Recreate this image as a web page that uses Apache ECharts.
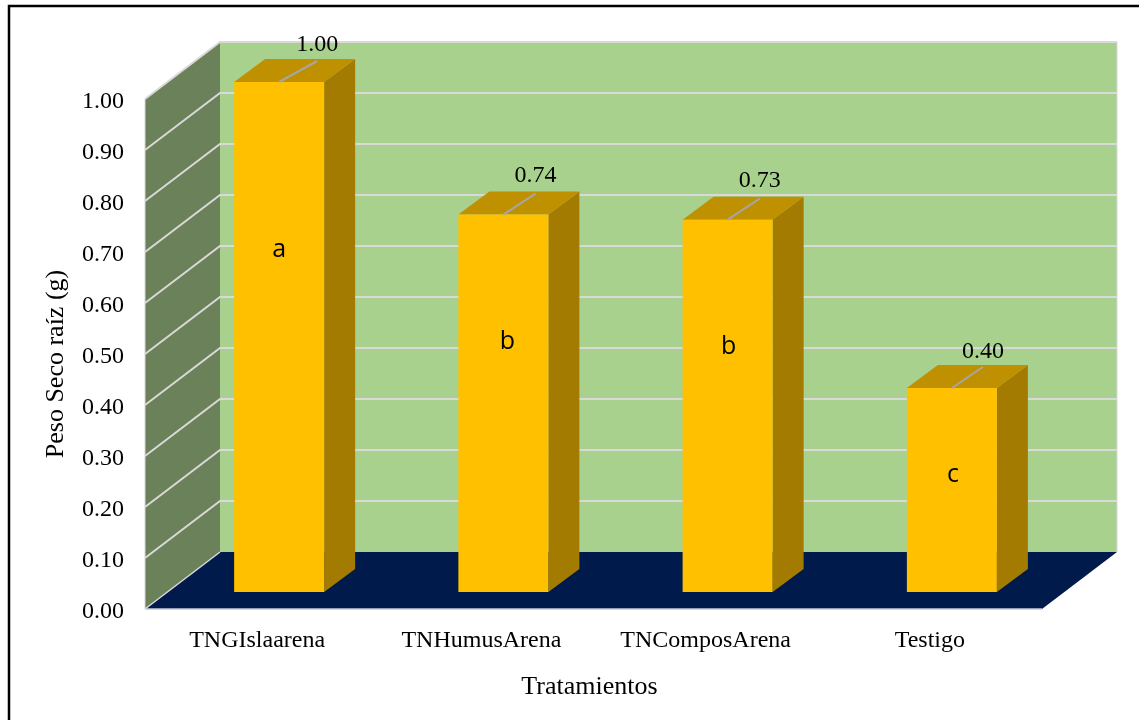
<!DOCTYPE html>
<html>
<head>
<meta charset="utf-8">
<style>html,body{margin:0;padding:0;background:#fff}#c{width:1139px;height:720px}</style>
<script src="https://cdn.jsdelivr.net/npm/echarts@6/dist/echarts.min.js"></script>
</head>
<body>
<div id="c"></div>
<script>
const categories = ['TNGIslaarena', 'TNHumusArena', 'TNComposArena', 'Testigo'];
const values = [1.00, 0.74, 0.73, 0.40];
const letters = ['a', 'b', 'b', 'c'];
const letterLevels = [0.67, 0.49, 0.48, 0.23];
const yTicks = [0, 0.1, 0.2, 0.3, 0.4, 0.5, 0.6, 0.7, 0.8, 0.9, 1.0];
const labelShiftX = [38, 32, 32, 31];
const labelShiftY = [37, 39, 39, 36];
const letterShiftX = [0, 4, 1, 1];

const SERIF = '"Liberation Serif","Times New Roman",serif';
const WALL = [75, -57], BAR_START = [22, -17], BAR_DEPTH = [31, -23], BAR_W = 90;
const C = {back:'#A9D18E', side:'#6B8159', floor:'#001A4B', grid:'#D9D9D9',
  front:'#FFC000', top:'#BF9000', right:'#A37B00', leader:'#A6A6A6'};

const chart = echarts.init(document.getElementById('c'), null, {renderer:'canvas'});
const poly = (points, fill, z2) => ({type:'polygon', z2, shape:{points}, style:{fill}});
const line = (points, color, w) => ({type:'polyline', shape:{points}, style:{stroke:color, lineWidth:w, fill:null}});

function frame(api){
  const band = api.size([1, 0])[0];
  const x0 = api.coord([0, 0])[0] - band / 2;
  const x1 = api.coord([categories.length - 1, 0])[0] + band / 2;
  return {x0, x1};
}

function renderWalls(params, api){
  const {x0, x1} = frame(api);
  const y0 = api.coord([0, 0])[1], y1 = api.coord([0, 1])[1];
  const dx = WALL[0], dy = WALL[1];
  return {type:'group', children:[
    poly([[x0 + dx, y0 + dy], [x1 + dx, y0 + dy], [x1 + dx, y1 + dy], [x0 + dx, y1 + dy]], C.back),
    poly([[x0, y0], [x0 + dx, y0 + dy], [x0 + dx, y1 + dy], [x0, y1]], C.side),
    poly([[x0, y0], [x0 + dx, y0 + dy], [x1 + dx, y0 + dy], [x1, y0]], C.floor),
    line([[x1 + dx, y0 + dy], [x1 + dx, y1 + dy]], C.grid, 1),
    line([[x0, y0], [x1, y0]], '#C5CBD8', 1.5),
    line([[x0, y0], [x0, y1]], C.grid, 1)
  ]};
}

function renderGrid(params, api){
  const {x0, x1} = frame(api);
  const y = api.coord([0, api.value(1)])[1];
  const first = api.value(1) === 0;
  const pts = first ? [[x0, y], [x0 + WALL[0], y + WALL[1]]]
    : [[x0, y], [x0 + WALL[0], y + WALL[1]], [x1 + WALL[0], y + WALL[1]]];
  return line(pts, C.grid, first ? 1.5 : 2);
}

function renderBar(params, api){
  const i = api.value(0), v = api.value(1);
  const p0 = api.coord([i, 0]), p1 = api.coord([i, v]);
  const l = p0[0] + BAR_START[0] - BAR_W / 2, r = l + BAR_W;
  const b = p0[1] + BAR_START[1], t = p1[1] + BAR_START[1];
  const dx = BAR_DEPTH[0], dy = BAR_DEPTH[1];
  const cx = (l + r) / 2;
  const lx = cx + labelShiftX[i], ly = t - labelShiftY[i];
  const letterY = api.coord([i, letterLevels[i]])[1] + BAR_START[1];
  return {type:'group', children:[
    poly([[r, t], [r + dx, t + dy], [r + dx, b + dy], [r, b]], C.right),
    poly([[l, t], [l + dx, t + dy], [r + dx, t + dy], [r, t]], C.top),
    poly([[l, t], [r, t], [r, b], [l, b]], C.front),
    line([[cx, t], [lx, t - 21]], C.leader, 2),
    {type:'text', style:{x:lx, y:ly, text:values[i].toFixed(2), fill:'#000',
      font:'24px ' + SERIF, align:'center', verticalAlign:'middle'}},
    {type:'text', style:{x:cx + letterShiftX[i], y:letterY, text:letters[i], fill:'#000',
      font:'25px "Open Sans",sans-serif', align:'center', verticalAlign:'middle'}}
  ]};
}

chart.setOption({
  animation:false,
  backgroundColor:'#fff',
  graphic:[{type:'rect', silent:true, z:100, shape:{x:9, y:6, width:1300, height:900},
    style:{fill:null, stroke:'#000', lineWidth:2.5}}],
  grid:{left:145, right:97, top:99, bottom:111, containLabel:false},
  xAxis:{type:'category', data:categories,
    axisLine:{show:false}, axisTick:{show:false}, splitLine:{show:false},
    axisLabel:{color:'#000', fontFamily:SERIF, fontSize:24, margin:20},
    name:'Tratamientos', nameLocation:'middle', nameGap:65,
    nameTextStyle:{color:'#000', fontFamily:SERIF, fontSize:26, padding:[0,8,0,0]}},
  yAxis:{type:'value', min:0, max:1, interval:0.1,
    axisLine:{show:false}, axisTick:{show:false}, splitLine:{show:false},
    axisLabel:{color:'#000', fontFamily:SERIF, fontSize:24, margin:21, verticalAlign:'top', lineHeight:5, formatter:v => v.toFixed(2)},
    name:'Peso Seco raíz (g)', nameLocation:'middle', nameGap:76, nameRotate:90,
    nameTextStyle:{color:'#000', fontFamily:SERIF, fontSize:26, padding:[0,20,0,0]}},
  series:[
    {type:'custom', coordinateSystem:'cartesian2d', silent:true, clip:false, z:1,
     renderItem:renderWalls, data:[[0, 0]], encode:{x:0, y:1}},
    {type:'custom', coordinateSystem:'cartesian2d', silent:true, clip:false, z:2,
     renderItem:renderGrid, data:yTicks.map(t => [0, t]), encode:{x:0, y:1}},
    {type:'custom', coordinateSystem:'cartesian2d', silent:true, clip:false, z:3,
     renderItem:renderBar, data:values.map((v, i) => [i, v]), encode:{x:0, y:1}}
  ]
});
</script>
</body>
</html>
